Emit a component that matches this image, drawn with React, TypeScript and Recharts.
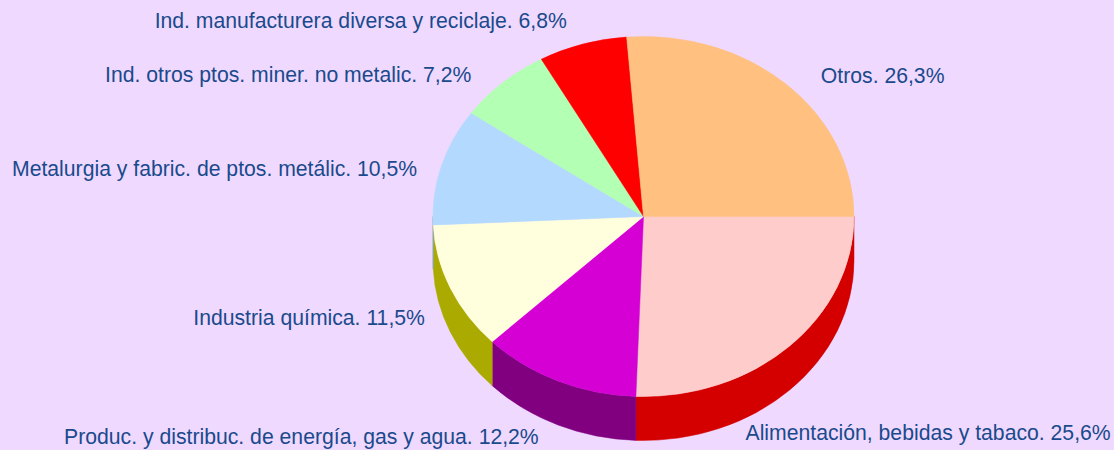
import React from 'react';
import { PieChart, Pie, Cell } from 'recharts';

const categories = [
  'Alimentación, bebidas y tabaco',
  'Produc. y distribuc. de energía, gas y agua',
  'Industria química',
  'Metalurgia y fabric. de ptos. metálic.',
  'Ind. otros ptos. miner. no metalic.',
  'Ind. manufacturera diversa y reciclaje',
  'Otros',
];
const shares = [25.6, 12.2, 11.5, 10.5, 7.2, 6.8, 26.3];

const topColors = ['#FFCCCC', '#D400D4', '#FFFFDD', '#B3D9FF', '#B3FFB3', '#FF0000', '#FFC080'];
const sideColors = ['#D40000', '#800080', '#AAAA00', '#7FA0C0', '#80C080', '#B00000', '#C08040'];
const labelNudges: [number, number][] = [
  [-58, 42],
  [-11, -1],
  [-7, 6],
  [-5, 9],
  [-18, 8],
  [-10, -3],
  [21, 7],
];

const data = categories.map((name, i) => ({ name, value: shares[i] }));

const W = 1114;
const H = 450;
const CX = 643.5;
const CY = 216.5;
const RX = 210.5;
const RATIO = 180 / 210.5;
const DEPTH = 44;
const RAD = Math.PI / 180;

const pt = (cx: number, cy: number, rx: number, ry: number, a: number) => [
  cx + rx * Math.cos(a * RAD),
  cy - ry * Math.sin(a * RAD),
];

const TopShape = (props: any) => {
  const { cx, cy, outerRadius, startAngle, endAngle, fill } = props;
  const rx = outerRadius;
  const ry = outerRadius * RATIO;
  const s = Math.max(startAngle, endAngle);
  const e = Math.min(startAngle, endAngle);
  const [x1, y1] = pt(cx, cy, rx, ry, s);
  const [x2, y2] = pt(cx, cy, rx, ry, e);
  const large = s - e > 180 ? 1 : 0;
  const d = `M${cx},${cy} L${x1},${y1} A${rx},${ry} 0 ${large} 1 ${x2},${y2} Z`;
  return <path d={d} fill={fill} stroke={fill} strokeWidth={0.5} />;
};

const WallShape = (props: any) => {
  const { cx, cy, outerRadius, startAngle, endAngle, fill } = props;
  const rx = outerRadius;
  const ry = outerRadius * RATIO;
  const s = Math.max(startAngle, endAngle);
  const e = Math.min(startAngle, endAngle);
  const hi = Math.min(s, 0);
  const lo = Math.max(e, -180);
  if (hi <= lo) return <g />;
  const [x1, y1] = pt(cx, cy, rx, ry, hi);
  const [x2, y2] = pt(cx, cy, rx, ry, lo);
  const d = `M${x1},${y1} A${rx},${ry} 0 0 1 ${x2},${y2} L${x2},${y2 + DEPTH} A${rx},${ry} 0 0 0 ${x1},${y1 + DEPTH} Z`;
  return <path d={d} fill={fill} stroke={fill} strokeWidth={0.5} />;
};

const renderLabel = (props: any) => {
  const { cx, cy, midAngle, outerRadius, index, name, value } = props;
  const rx = outerRadius;
  const ry = outerRadius * RATIO;
  const c = Math.cos(midAngle * RAD);
  const s = Math.sin(midAngle * RAD);
  let x = cx + (rx + 20) * c;
  let y = cy - (ry + 20) * s + 6 + (s < 0 ? DEPTH * -s : 0);
  const [dx, dy] = labelNudges[index] || [0, 0];
  x += dx;
  y += dy;
  const nm = String(name);
  const txt = `${nm.endsWith('.') ? nm : nm + '.'} ${Number(value).toFixed(1).replace('.', ',')}%`;
  return (
    <text
      x={x}
      y={y}
      textAnchor={c >= 0 ? 'start' : 'end'}
      fill="#1A4A8C"
      fontSize={21.2}
      fontFamily="'Liberation Sans', Arial, sans-serif"
    >
      {txt}
    </text>
  );
};

export default function App() {
  return (
    <div
      style={{
        position: 'fixed',
        left: 0,
        top: 0,
        width: W,
        height: H,
        background: '#EFD9FF',
      }}
    >
      <PieChart width={W} height={H} margin={{ top: 0, right: 0, bottom: 0, left: 0 }}>
        <Pie
          data={data}
          dataKey="value"
          nameKey="name"
          cx={CX}
          cy={CY}
          outerRadius={RX}
          startAngle={0}
          endAngle={-360}
          stroke="none"
          isAnimationActive={false}
          shape={WallShape}
          inactiveShape={WallShape}
          activeShape={WallShape}
          label={false}
          labelLine={false}
        >
          {data.map((d, i) => (
            <Cell key={`w${i}`} fill={sideColors[i]} />
          ))}
        </Pie>
        <Pie
          data={data}
          dataKey="value"
          nameKey="name"
          cx={CX}
          cy={CY}
          outerRadius={RX}
          startAngle={0}
          endAngle={-360}
          stroke="none"
          isAnimationActive={false}
          shape={TopShape}
          inactiveShape={TopShape}
          activeShape={TopShape}
          label={renderLabel}
          labelLine={false}
        >
          {data.map((d, i) => (
            <Cell key={`t${i}`} fill={topColors[i]} />
          ))}
        </Pie>
      </PieChart>
    </div>
  );
}
